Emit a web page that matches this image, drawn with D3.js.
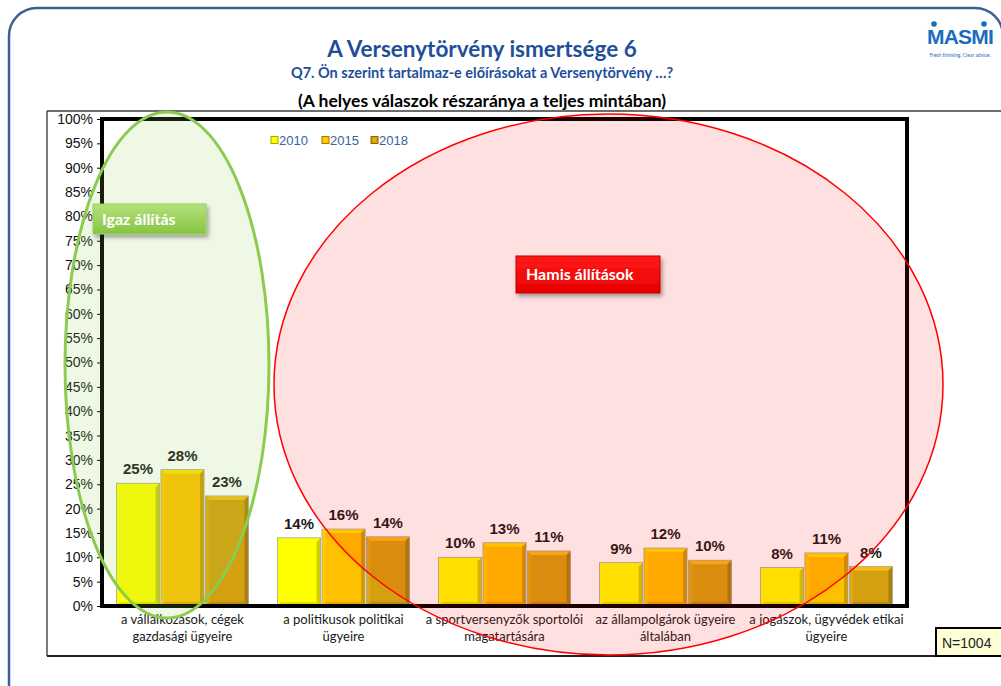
<!DOCTYPE html>
<html>
<head>
<meta charset="utf-8">
<script src="https://cdnjs.cloudflare.com/ajax/libs/d3/7.8.5/d3.min.js"></script>
<style>
  html, body { margin: 0; padding: 0; background: #fff; }
  svg { display: block; }
</style>
</head>
<body>
<div id="chart"></div>
<script>
'use strict';

// ---- data -----------------------------------------------------------
var categories = [
  ["a vállalkozások, cégek", "gazdasági ügyeire"],
  ["a politikusok politikai", "ügyeire"],
  ["a  sportversenyzők sportolói", "magatartására"],
  ["az állampolgárok ügyeire", "általában"],
  ["a jogászok, ügyvédek etikai", "ügyeire"]
];
var seriesNames = ["2010", "2015", "2018"];
var values2010 = [0.252, 0.140, 0.100, 0.089, 0.079];
var values2015 = [0.280, 0.158, 0.130, 0.119, 0.109];
var values2018 = [0.226, 0.142, 0.113, 0.094, 0.081];
var valueLabels2010 = ["25%", "14%", "10%", "9%", "8%"];
var valueLabels2015 = ["28%", "16%", "13%", "12%", "11%"];
var valueLabels2018 = ["23%", "14%", "11%", "10%", "8%"];
var yTicks = d3.range(0, 21).map(function(i) { return i * 0.05; });

var seriesColors = ["#ffff00", "#ffc000", "#d4a010"];

var svgWidth = 1001, svgHeight = 686;
var plot = { left: 102, right: 907, top: 119, bottom: 606 };

var svg = d3.select("#chart").append("svg")
  .attr("width", svgWidth)
  .attr("height", svgHeight);

var defs = svg.append("defs");
var shadow = defs.append("filter").attr("id", "shadow")
  .attr("x", "-20%").attr("y", "-30%").attr("width", "150%").attr("height", "180%");
shadow.append("feDropShadow").attr("dx", 2).attr("dy", 3).attr("stdDeviation", 2)
  .attr("flood-color", "#000").attr("flood-opacity", 0.35);

var greenGrad = defs.append("linearGradient").attr("id", "greenGrad")
  .attr("x1", 0).attr("y1", 0).attr("x2", 0).attr("y2", 1);
greenGrad.append("stop").attr("offset", "0%").attr("stop-color", "#b4e07c");
greenGrad.append("stop").attr("offset", "100%").attr("stop-color", "#86c442");

var redGrad = defs.append("linearGradient").attr("id", "redGrad")
  .attr("x1", 0).attr("y1", 0).attr("x2", 0).attr("y2", 1);
redGrad.append("stop").attr("offset", "0%").attr("stop-color", "#ff1a1a");
redGrad.append("stop").attr("offset", "100%").attr("stop-color", "#e80000");

// ---- slide frame ------------------------------------------------------
svg.append("rect")
  .attr("x", 9).attr("y", 8)
  .attr("width", 994).attr("height", 720)
  .attr("rx", 28).attr("ry", 28)
  .attr("fill", "none")
  .attr("stroke", "#3c5f96")
  .attr("stroke-width", 2.5);

// logo
var logo = svg.append("g");
logo.append("text")
  .attr("x", 960).attr("y", 44)
  .attr("text-anchor", "middle")
  .style("font-family", "'Liberation Sans', Arial, sans-serif")
  .style("font-weight", "bold")
  .style("font-size", "21px")
  .style("letter-spacing", "-0.8px")
  .style("fill", "#1a6cc0")
  .text("MASMI");
logo.append("circle").attr("cx", 934).attr("cy", 24).attr("r", 2.8).attr("fill", "#1a6cc0");
logo.append("circle").attr("cx", 984).attr("cy", 24).attr("r", 2.8).attr("fill", "#1a6cc0");
logo.append("text")
  .attr("x", 960).attr("y", 57)
  .attr("text-anchor", "middle")
  .style("font-family", "Lato, sans-serif")
  .style("font-size", "5px")
  .style("fill", "#1a6cc0")
  .text("Fresh thinking. Clear advice.");

// titles
svg.append("text")
  .attr("x", 482).attr("y", 57)
  .attr("text-anchor", "middle")
  .style("font-family", "Lato, sans-serif")
  .style("font-weight", "bold")
  .style("font-size", "22.5px")
  .style("fill", "#1f4f9a")
  .text("A Versenytörvény ismertsége 6");

svg.append("text")
  .attr("x", 482).attr("y", 78)
  .attr("text-anchor", "middle")
  .style("font-family", "Lato, sans-serif")
  .style("font-weight", "bold")
  .style("font-size", "14.5px")
  .style("fill", "#1f4f9a")
  .text("Q7. Ön szerint tartalmaz-e előírásokat a Versenytörvény …?");

svg.append("text")
  .attr("x", 482).attr("y", 107)
  .attr("text-anchor", "middle")
  .style("font-family", "Lato, sans-serif")
  .style("font-weight", "bold")
  .style("font-size", "17.5px")
  .style("fill", "#000")
  .text("(A helyes válaszok részaránya a teljes mintában)");

// chart area frame
var frame = svg.append("g");
frame.append("line").attr("x1", 47).attr("x2", 1001).attr("y1", 111).attr("y2", 111)
  .attr("stroke", "#6d6d6d").attr("stroke-width", 2);
frame.append("line").attr("x1", 47).attr("x2", 47).attr("y1", 111).attr("y2", 656)
  .attr("stroke", "#222").attr("stroke-width", 1.2);
frame.append("line").attr("x1", 47).attr("x2", 936).attr("y1", 656).attr("y2", 656)
  .attr("stroke", "#222").attr("stroke-width", 2);

// ---- scales ------------------------------------------------------------
var x0 = d3.scaleBand()
  .domain(d3.range(categories.length))
  .range([plot.left, plot.right])
  .paddingInner(0.18)
  .paddingOuter(0.09);

var x1 = d3.scaleBand()
  .domain(seriesNames)
  .range([0, x0.bandwidth()])
  .paddingInner(0.03);

var y = d3.scaleLinear()
  .domain([0, 1])
  .range([plot.bottom, plot.top]);

// y axis
var yAxis = d3.axisLeft(y)
  .tickValues(yTicks)
  .tickFormat(d3.format(".0%"))
  .tickSize(5)
  .tickPadding(4);

var gy = svg.append("g")
  .attr("transform", "translate(" + plot.left + ",0)")
  .call(yAxis);
gy.select(".domain").remove();
gy.selectAll(".tick line").attr("stroke", "#000");
gy.selectAll(".tick text")
  .style("font-family", "'Liberation Sans', Arial, sans-serif")
  .style("font-size", "14px")
  .style("fill", "#111");

// plot border (thick black)
svg.append("rect")
  .attr("x", plot.left).attr("y", plot.top)
  .attr("width", plot.right - plot.left)
  .attr("height", plot.bottom - plot.top)
  .attr("fill", "none")
  .attr("stroke", "#000")
  .attr("stroke-width", 4);

// legend
var legend = svg.append("g").attr("transform", "translate(271,140)");
var legendX = [0, 51, 100];
seriesNames.forEach(function(name, i) {
  var lg = legend.append("g").attr("transform", "translate(" + legendX[i] + ",0)");
  lg.append("rect").attr("x", 0).attr("y", -3.5).attr("width", 7).attr("height", 7)
    .attr("fill", seriesColors[i]).attr("stroke", d3.color(seriesColors[i]).darker(1.2)).attr("stroke-width", 1);
  lg.append("rect").attr("x", 2).attr("y", -1.5).attr("width", 3).attr("height", 3)
    .attr("fill", d3.color(seriesColors[i]).brighter(0.3));
  lg.append("text").attr("x", 8).attr("y", 5)
    .style("font-family", "'Liberation Sans', Arial, sans-serif")
    .style("font-size", "13px")
    .style("fill", "#3563a3")
    .text(name);
});

// ---- bars --------------------------------------------------------------
var allValues = [values2010, values2015, values2018];
var allLabels = [valueLabels2010, valueLabels2015, valueLabels2018];

var barData = [];
categories.forEach(function(c, ci) {
  seriesNames.forEach(function(s, si) {
    barData.push({ cat: ci, series: s, si: si, value: allValues[si][ci], label: allLabels[si][ci] });
  });
});

function bevel(g, d) {
  var bx = x0(d.cat) + x1(d.series);
  var bw = x1.bandwidth();
  var by = y(d.value);
  var bh = y(0) - by;
  var b = Math.min(4, bh / 3);
  var c = d3.color(seriesColors[d.si]);
  g.append("rect").attr("x", bx).attr("y", by).attr("width", bw).attr("height", bh)
    .attr("fill", c);
  var polys = [
    { pts: [[bx, by], [bx + bw, by], [bx + bw - b, by + b], [bx + b, by + b]], fill: c.brighter(0.45) },
    { pts: [[bx, by], [bx + b, by + b], [bx + b, by + bh - b], [bx, by + bh]], fill: c.brighter(0.15) },
    { pts: [[bx + bw, by], [bx + bw, by + bh], [bx + bw - b, by + bh - b], [bx + bw - b, by + b]], fill: c.darker(0.6) },
    { pts: [[bx, by + bh], [bx + bw, by + bh], [bx + bw - b, by + bh - b], [bx + b, by + bh - b]], fill: c.darker(0.35) }
  ];
  polys.forEach(function(p) {
    g.append("polygon").attr("points", p.pts.map(function(q) { return q.join(","); }).join(" "))
      .attr("fill", p.fill);
  });
  g.append("rect").attr("x", bx).attr("y", by).attr("width", bw).attr("height", bh)
    .attr("fill", "none").attr("stroke", "#a8a8a8").attr("stroke-width", 0.8);
}

var bars = svg.append("g").attr("class", "bars");
bars.selectAll("g.bar")
  .data(barData)
  .enter().append("g")
  .attr("class", "bar")
  .each(function(d) { bevel(d3.select(this), d); });

// redraw bottom axis line over the bars
svg.append("line")
  .attr("x1", plot.left).attr("x2", plot.right)
  .attr("y1", plot.bottom).attr("y2", plot.bottom)
  .attr("stroke", "#000").attr("stroke-width", 4);

// value labels
svg.append("g").selectAll("text")
  .data(barData)
  .enter().append("text")
  .attr("x", function(d) { return x0(d.cat) + x1(d.series) + x1.bandwidth() / 2; })
  .attr("y", function(d) { return y(d.value) - 9; })
  .attr("text-anchor", "middle")
  .style("font-family", "'Liberation Sans', Arial, sans-serif")
  .style("font-weight", "bold")
  .style("font-size", "15px")
  .style("fill", "#1a1a1a")
  .text(function(d) { return d.label; });

// category labels
var catLabels = svg.append("g").selectAll("text")
  .data(categories)
  .enter().append("text")
  .attr("text-anchor", "middle")
  .style("font-family", "Lato, sans-serif")
  .style("font-size", "13px")
  .style("fill", "#1a1a1a");
catLabels.each(function(lines, i) {
  var t = d3.select(this);
  lines.forEach(function(line, li) {
    t.append("tspan")
      .attr("x", x0(i) + x0.bandwidth() / 2)
      .attr("y", 624 + li * 16.5)
      .text(line);
  });
});

// N box
svg.append("rect").attr("x", 936).attr("y", 628).attr("width", 72).attr("height", 28)
  .attr("fill", "#ffffd6").attr("stroke", "#000").attr("stroke-width", 2);
svg.append("text").attr("x", 942).attr("y", 648)
  .style("font-family", "'Liberation Sans', Arial, sans-serif")
  .style("font-size", "14px")
  .style("fill", "#222")
  .text("N=1004");

// ---- highlight ellipses --------------------------------------------------
svg.append("ellipse")
  .attr("cx", 167).attr("cy", 365).attr("rx", 102).attr("ry", 253)
  .attr("fill", "rgba(146,208,80,0.15)")
  .attr("stroke", "#8ccb50").attr("stroke-width", 3);

svg.append("ellipse")
  .attr("cx", 608.5).attr("cy", 384.5).attr("rx", 334.5).attr("ry", 270.5)
  .attr("fill", "rgba(255,0,0,0.12)")
  .attr("stroke", "#ff0000").attr("stroke-width", 1.5);

// callout boxes
svg.append("rect").attr("x", 93).attr("y", 204).attr("width", 113).attr("height", 30)
  .attr("fill", "url(#greenGrad)").attr("stroke", "#9ad060").attr("stroke-width", 1)
  .attr("filter", "url(#shadow)");
svg.append("text").attr("x", 102).attr("y", 225)
  .style("font-family", "Lato, sans-serif")
  .style("font-weight", "bold")
  .style("font-size", "16px")
  .style("fill", "#fff")
  .text("Igaz állítás");

svg.append("rect").attr("x", 516).attr("y", 256).attr("width", 144).attr("height", 37)
  .attr("fill", "url(#redGrad)").attr("stroke", "#c00000").attr("stroke-width", 1)
  .attr("filter", "url(#shadow)");
svg.append("text").attr("x", 526).attr("y", 280)
  .style("font-family", "Lato, sans-serif")
  .style("font-weight", "bold")
  .style("font-size", "16px")
  .style("fill", "#fff")
  .text("Hamis állítások");
</script>
</body>
</html>
